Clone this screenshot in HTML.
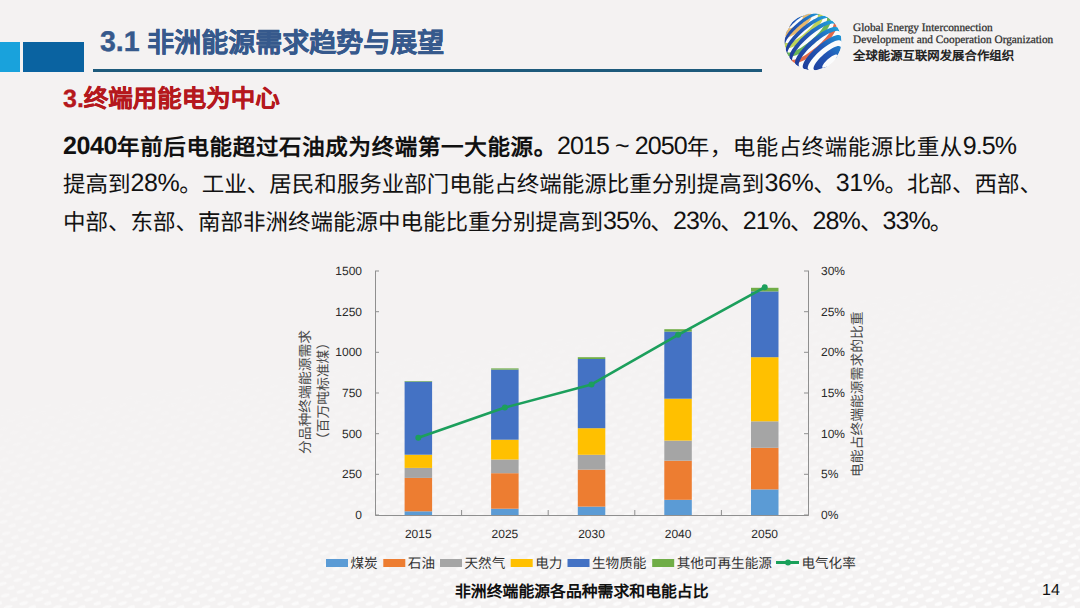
<!DOCTYPE html>
<html lang="zh-CN"><head><meta charset="utf-8">
<style>
html,body{margin:0;padding:0;}
body{text-rendering:geometricPrecision;width:1080px;height:608px;overflow:hidden;background:#f4f2f2;position:relative;font-family:"Liberation Sans",sans-serif;}
.abs{position:absolute;white-space:nowrap;}
#blk1{left:0;top:42px;width:20px;height:30px;background:#19a2dc;}
#blk2{left:23px;top:42px;width:61px;height:30px;background:#0a63a1;}
#uline{left:93px;top:69px;width:669px;height:3px;background:#1d5a7c;}
#title{left:100px;top:21px;font-size:27px;font-weight:bold;color:#36598c;-webkit-text-stroke:0.4px #36598c;}
#title i,#sub i{font-style:normal;}
#title i{font-size:28.5px;vertical-align:1px;}
#sub i{font-size:25px;}
#sub{left:63px;top:80px;font-size:24.5px;font-weight:bold;color:#b5181d;-webkit-text-stroke:0.3px #b5181d;}
.para{left:63px;font-size:22.5px;color:#111;}
.para i{font-style:normal;font-size:25px;vertical-align:1.5px;letter-spacing:-0.9px;}
#l1{top:130px;letter-spacing:0.5px;}
#l1 b{letter-spacing:0.65px;}
#l1 i{letter-spacing:-0.9px;}
#l1 b i{letter-spacing:-0.4px;}
#l2 i{letter-spacing:-0.4px;}
#l2{top:167px;}
#l3{top:205px;}
#cap{left:455px;top:578.5px;font-size:15.85px;font-weight:bold;color:#111;}
#pg{left:1042px;top:581.5px;font-size:16px;color:#111;}
.ax{font-family:"Liberation Sans",sans-serif;font-size:12px;fill:#2a2a2a;}
.tt{font-family:"Liberation Sans",sans-serif;font-size:13.8px;fill:#4a4a4a;}
.lg{font-family:"Liberation Sans",sans-serif;font-size:13.6px;fill:#333;}
.lt{font-family:"Liberation Serif",serif;font-size:11.3px;color:#2e2e2e;left:853px;-webkit-text-stroke:0.25px #2e2e2e;}
#lt1{top:21.5px;}
#lt2{top:34px;}
#lt3{left:853px;top:45.5px;font-size:12.4px;font-weight:bold;color:#222;}
</style></head><body>
<svg class="abs" style="left:0;top:0" width="1080" height="608" viewBox="0 0 1080 608">
<defs>
<pattern id="dots" width="16" height="12" patternUnits="userSpaceOnUse" patternTransform="rotate(-14)">
<ellipse cx="5" cy="3" rx="4.5" ry="1.8" fill="#fff"/><ellipse cx="13" cy="9" rx="4.5" ry="1.8" fill="#fff"/>
</pattern>
<linearGradient id="fadeg" gradientUnits="userSpaceOnUse" x1="560" y1="330" x2="600" y2="640">
<stop offset="0" stop-color="#fff" stop-opacity="0"/><stop offset="1" stop-color="#fff" stop-opacity="1"/>
</linearGradient>
<mask id="fadem"><rect width="1080" height="608" fill="url(#fadeg)"/></mask>
</defs>
<rect width="1080" height="608" fill="url(#dots)" mask="url(#fadem)" opacity="0.85"/>
</svg>
<div class="abs" id="blk1"></div>
<div class="abs" id="blk2"></div>
<div class="abs" id="uline"></div>
<div class="abs" id="title"><i>3.1</i> 非洲能源需求趋势与展望</div>
<div class="abs" id="sub"><i>3.</i>终端用能电为中心</div>
<div class="abs para" id="l1"><b><i>2040</i>年前后电能超过石油成为终端第一大能源。</b><i>2015 ~ 2050</i>年，电能占终端能源比重从<i>9.5%</i></div>
<div class="abs para" id="l2">提高到<i>28%</i>。工业、居民和服务业部门电能占终端能源比重分别提高到<i>36%</i>、<i>31%</i>。北部、西部、</div>
<div class="abs para" id="l3">中部、东部、南部非洲终端能源中电能比重分别提高到<i>35%</i>、<i>23%</i>、<i>21%</i>、<i>28%</i>、<i>33%</i>。</div>
<svg class="abs" style="left:0;top:0" width="1080" height="608" viewBox="0 0 1080 608">
<path d="M375.5 271 V515.5 H808.5 V271" fill="none" stroke="#8f8f8f" stroke-width="1"/>
<path d="M375 515.0h4M809 515.0h-5M375 474.3h4M809 474.3h-5M375 433.7h4M809 433.7h-5M375 393.0h4M809 393.0h-5M375 352.3h4M809 352.3h-5M375 311.7h4M809 311.7h-5M375 271.0h4M809 271.0h-5M461.6 515v-5M548.2 515v-5M634.8 515v-5M721.4 515v-5" stroke="#8f8f8f" stroke-width="1" fill="none"/>
<rect x="404.6" y="511.3" width="27.5" height="3.7" fill="#5b9bd5"/>
<rect x="404.6" y="477.9" width="27.5" height="33.4" fill="#ed7d31"/>
<rect x="404.6" y="467.9" width="27.5" height="10.0" fill="#a5a5a5"/>
<rect x="404.6" y="454.7" width="27.5" height="13.2" fill="#ffc000"/>
<rect x="404.6" y="381.6" width="27.5" height="73.1" fill="#4472c4"/>
<rect x="404.6" y="381.0" width="27.5" height="0.6" fill="#70ad47"/>
<rect x="491.1" y="508.7" width="27.5" height="6.3" fill="#5b9bd5"/>
<rect x="491.1" y="473.2" width="27.5" height="35.5" fill="#ed7d31"/>
<rect x="491.1" y="459.5" width="27.5" height="13.7" fill="#a5a5a5"/>
<rect x="491.1" y="439.7" width="27.5" height="19.8" fill="#ffc000"/>
<rect x="491.1" y="369.6" width="27.5" height="70.1" fill="#4472c4"/>
<rect x="491.1" y="368.4" width="27.5" height="1.2" fill="#70ad47"/>
<rect x="577.8" y="506.6" width="27.5" height="8.4" fill="#5b9bd5"/>
<rect x="577.8" y="469.6" width="27.5" height="37.0" fill="#ed7d31"/>
<rect x="577.8" y="454.8" width="27.5" height="14.8" fill="#a5a5a5"/>
<rect x="577.8" y="428.2" width="27.5" height="26.6" fill="#ffc000"/>
<rect x="577.8" y="359.0" width="27.5" height="69.2" fill="#4472c4"/>
<rect x="577.8" y="357.2" width="27.5" height="1.8" fill="#70ad47"/>
<rect x="664.3" y="499.8" width="27.5" height="15.2" fill="#5b9bd5"/>
<rect x="664.3" y="460.7" width="27.5" height="39.1" fill="#ed7d31"/>
<rect x="664.3" y="440.6" width="27.5" height="20.1" fill="#a5a5a5"/>
<rect x="664.3" y="398.7" width="27.5" height="41.9" fill="#ffc000"/>
<rect x="664.3" y="331.6" width="27.5" height="67.1" fill="#4472c4"/>
<rect x="664.3" y="329.2" width="27.5" height="2.4" fill="#70ad47"/>
<rect x="751.0" y="489.4" width="27.5" height="25.6" fill="#5b9bd5"/>
<rect x="751.0" y="447.8" width="27.5" height="41.6" fill="#ed7d31"/>
<rect x="751.0" y="421.3" width="27.5" height="26.5" fill="#a5a5a5"/>
<rect x="751.0" y="357.2" width="27.5" height="64.1" fill="#ffc000"/>
<rect x="751.0" y="291.4" width="27.5" height="65.8" fill="#4472c4"/>
<rect x="751.0" y="287.8" width="27.5" height="3.6" fill="#70ad47"/>
<polyline points="418.3,437.8 504.9,407.6 591.5,384.4 678.1,334.8 764.7,287.3" fill="none" stroke="#1c9f5c" stroke-width="2.6" stroke-linejoin="round"/>
<circle cx="418.3" cy="437.8" r="3" fill="#1c9f5c"/>
<circle cx="504.9" cy="407.6" r="3" fill="#1c9f5c"/>
<circle cx="591.5" cy="384.4" r="3" fill="#1c9f5c"/>
<circle cx="678.1" cy="334.8" r="3" fill="#1c9f5c"/>
<circle cx="764.7" cy="287.3" r="3" fill="#1c9f5c"/>
<text x="362" y="519.0" text-anchor="end" class="ax">0</text>
<text x="821" y="519.0" class="ax">0%</text>
<text x="362" y="478.3" text-anchor="end" class="ax">250</text>
<text x="821" y="478.3" class="ax">5%</text>
<text x="362" y="437.7" text-anchor="end" class="ax">500</text>
<text x="821" y="437.7" class="ax">10%</text>
<text x="362" y="397.0" text-anchor="end" class="ax">750</text>
<text x="821" y="397.0" class="ax">15%</text>
<text x="362" y="356.3" text-anchor="end" class="ax">1000</text>
<text x="821" y="356.3" class="ax">20%</text>
<text x="362" y="315.7" text-anchor="end" class="ax">1250</text>
<text x="821" y="315.7" class="ax">25%</text>
<text x="362" y="275.0" text-anchor="end" class="ax">1500</text>
<text x="821" y="275.0" class="ax">30%</text>
<text x="418.3" y="537.5" text-anchor="middle" class="ax">2015</text>
<text x="504.9" y="537.5" text-anchor="middle" class="ax">2025</text>
<text x="591.5" y="537.5" text-anchor="middle" class="ax">2030</text>
<text x="678.1" y="537.5" text-anchor="middle" class="ax">2040</text>
<text x="764.7" y="537.5" text-anchor="middle" class="ax">2050</text>
<text transform="translate(310,392) rotate(-90)" text-anchor="middle" class="tt">分品种终端能源需求</text>
<text transform="translate(328,391) rotate(-90)" text-anchor="middle" class="tt">（百万吨标准煤）</text>
<text transform="translate(862.3,394.2) rotate(-90)" text-anchor="middle" class="tt">电能占终端能源需求的比重</text>
<rect x="326" y="559" width="22" height="8" fill="#5b9bd5"/>
<text x="350.5" y="567.5" class="lg">煤炭</text>
<rect x="383.3" y="559" width="22" height="8" fill="#ed7d31"/>
<text x="407.8" y="567.5" class="lg">石油</text>
<rect x="440" y="559" width="22" height="8" fill="#a5a5a5"/>
<text x="464.5" y="567.5" class="lg">天然气</text>
<rect x="510.7" y="559" width="22" height="8" fill="#ffc000"/>
<text x="535.2" y="567.5" class="lg">电力</text>
<rect x="567.5" y="559" width="22" height="8" fill="#4472c4"/>
<text x="592.0" y="567.5" class="lg">生物质能</text>
<rect x="652.2" y="559" width="22" height="8" fill="#70ad47"/>
<text x="676.7" y="567.5" class="lg">其他可再生能源</text>
<path d="M776 562.5H799" stroke="#1aa05a" stroke-width="3"/><circle cx="788" cy="562.5" r="3" fill="#1aa05a"/>
<text x="801.4" y="567.5" class="lg">电气化率</text>
</svg>
<svg class="abs" style="left:0;top:0" width="1080" height="90" viewBox="0 0 1080 90">
<defs><clipPath id="lc"><circle cx="813.0" cy="41.8" r="28.6"/></clipPath>
<linearGradient id="lg1" gradientUnits="userSpaceOnUse" x1="795" y1="64" x2="838" y2="20"><stop offset="0" stop-color="#1e3a98"/><stop offset="0.5" stop-color="#2358b6"/><stop offset="1" stop-color="#1eaee2"/></linearGradient></defs>
<g clip-path="url(#lc)"><circle cx="813.0" cy="41.8" r="28.6" fill="#fbfcfd"/>
<path d="M797.2,18.0 798.3,17.3 799.4,16.7 800.4,16.3 801.3,16.0 802.0,16.0 802.5,16.1 802.8,16.4 802.9,16.9 802.8,17.6 802.5,18.4 802.0,19.3 801.3,20.3 800.4,21.3 799.5,22.4 798.4,23.5 797.2,24.5 796.0,25.5 794.8,26.3 793.6,27.0 792.5,27.6 791.5,28.0 790.6,28.3 789.9,28.3 789.4,28.2 789.1,27.8 789.0,27.3 789.1,26.7 789.4,25.9 789.9,25.0 790.6,24.0 791.5,23.0 791.7,22.7 L785.4,34.3 785.3,35.2 785.4,36.0 785.8,36.6 786.5,37.0 787.3,37.1 788.4,37.0 789.7,36.7 791.2,36.1 792.8,35.3 794.5,34.4 796.4,33.2 798.2,32.0 800.1,30.5 801.9,29.0 803.7,27.4 805.4,25.8 806.9,24.1 808.3,22.5 809.5,20.9 810.5,19.4 811.2,18.0 811.7,16.8 812.0,15.7 812.0,14.8 811.7,14.1 811.2,13.7 810.5,13.4 809.5,13.4 809.5,13.4Z" fill="#e6b86e" fill-rule="evenodd"/>
<path d="M815.9,13.4 816.7,13.6 817.3,13.9 817.6,14.4 817.9,15.1 817.9,15.9 817.7,16.9 817.4,17.9 816.9,19.1 816.2,20.4 815.4,21.8 814.4,23.2 813.2,24.7 811.9,26.2 810.5,27.7 809.0,29.3 807.5,30.8 805.8,32.3 804.1,33.8 802.4,35.2 800.6,36.5 798.9,37.8 797.1,38.9 795.5,39.9 793.8,40.8 792.3,41.5 790.9,42.1 789.6,42.6 788.4,42.9 787.3,43.0 786.4,42.9 785.7,42.7 785.1,42.4 784.7,41.9 784.5,41.2 784.4,40.7 L784.7,46.2 785.0,46.9 785.4,47.5 786.1,48.0 786.9,48.2 788.0,48.2 789.2,48.1 790.6,47.8 792.1,47.3 793.7,46.6 795.5,45.7 797.3,44.7 799.2,43.6 801.2,42.3 803.2,40.9 805.2,39.3 807.2,37.7 809.2,36.1 811.1,34.3 812.9,32.6 814.6,30.8 816.2,29.0 817.7,27.3 819.0,25.6 820.1,23.9 821.1,22.4 821.9,20.9 822.5,19.5 822.8,18.3 823.0,17.2 823.0,16.3 822.7,15.6 822.3,15.0 821.6,14.5 821.4,14.4Z" fill="#bdd25a" fill-rule="evenodd"/>
<path d="M825.8,16.2 826.4,16.7 826.9,17.4 827.1,18.3 827.0,19.4 826.8,20.6 826.3,22.0 825.6,23.5 824.7,25.1 823.5,26.8 822.2,28.6 820.8,30.5 819.1,32.4 817.4,34.3 815.5,36.2 813.5,38.1 811.4,40.0 809.3,41.7 807.1,43.4 804.9,45.0 802.8,46.5 800.7,47.9 798.6,49.1 796.7,50.1 794.8,51.0 793.1,51.6 791.5,52.1 790.1,52.4 788.8,52.5 787.8,52.4 786.9,52.1 786.3,51.5 785.9,50.8 785.9,50.8 L787.8,55.3 788.4,55.9 789.2,56.3 790.2,56.5 791.5,56.5 792.9,56.2 794.5,55.8 796.3,55.2 798.2,54.3 800.2,53.3 802.4,52.1 804.6,50.7 806.8,49.2 809.1,47.6 811.4,45.8 813.6,44.0 815.8,42.1 817.9,40.1 819.9,38.1 821.9,36.1 823.6,34.1 825.2,32.1 826.7,30.2 827.9,28.3 828.9,26.6 829.7,25.0 830.3,23.5 830.7,22.2 830.8,21.0 830.7,20.0 830.3,19.2 829.9,18.8Z" fill="#6ab558" fill-rule="evenodd"/>
<path d="M833.1,21.5 833.6,22.2 833.8,23.2 833.7,24.3 833.4,25.6 832.9,27.1 832.2,28.7 831.2,30.4 830.0,32.3 828.6,34.2 827.0,36.2 825.3,38.2 823.4,40.3 821.3,42.4 819.2,44.4 817.0,46.4 814.7,48.3 812.4,50.1 810.0,51.8 807.7,53.4 805.5,54.9 803.3,56.2 801.2,57.3 799.2,58.2 797.3,58.9 795.6,59.4 794.1,59.7 792.7,59.8 791.6,59.7 790.7,59.4 790.0,58.8 790.0,58.8 L792.9,62.1 793.7,62.6 794.6,62.9 795.8,62.9 797.2,62.8 798.8,62.4 800.6,61.8 802.5,61.0 804.5,60.0 806.7,58.9 808.9,57.5 811.2,56.0 813.5,54.4 815.8,52.6 818.1,50.8 820.4,48.8 822.6,46.8 824.7,44.8 826.7,42.7 828.6,40.7 830.3,38.6 831.8,36.7 833.1,34.8 834.2,32.9 835.2,31.2 835.8,29.7 836.3,28.3 836.5,27.0 836.4,25.9 836.1,25.0 836.0,24.8Z" fill="#e2694a" fill-rule="evenodd"/>
<path d="M791.9,22.5 792.1,22.3 792.3,22.1 792.5,21.9 792.7,21.7 792.9,21.5 793.1,21.2 793.4,21.0 793.6,20.8 793.8,20.6 794.0,20.4 794.3,20.2 794.5,20.0 794.7,19.8 795.0,19.6 795.2,19.4 795.5,19.2 795.7,19.0 796.0,18.8 796.2,18.7 796.4,18.5 796.7,18.3 796.9,18.1 796.9,18.1 L809.2,13.5 808.6,13.6 807.9,13.7 807.2,14.0 806.5,14.2 805.7,14.6 804.9,14.9 804.1,15.4 803.2,15.9 802.3,16.4 801.4,17.0 800.5,17.6 799.6,18.2 798.6,18.9 797.7,19.6 796.8,20.3 795.9,21.1 795.0,21.9 794.1,22.7 793.2,23.5 792.4,24.3 791.6,25.2 790.8,26.0 790.0,26.8 789.4,27.6 788.7,28.4 788.1,29.2 787.6,30.0 787.1,30.7 786.6,31.4 786.3,32.1 785.9,32.8 785.7,33.4 785.5,34.0 785.5,34.0Z" fill="url(#lg1)" fill-rule="evenodd"/>
<path d="M784.4,40.4 784.5,39.8 784.7,39.1 784.9,38.4 785.2,37.6 785.6,36.8 786.1,35.9 786.7,35.0 787.3,34.1 788.0,33.1 788.7,32.1 789.5,31.1 790.4,30.1 791.3,29.1 792.3,28.0 793.3,27.0 794.3,26.0 795.4,24.9 796.5,23.9 797.7,23.0 798.8,22.0 800.0,21.1 801.1,20.2 802.3,19.3 803.5,18.5 804.6,17.8 805.8,17.0 806.9,16.4 808.0,15.8 809.0,15.2 810.0,14.8 811.0,14.3 811.9,14.0 812.8,13.7 813.6,13.5 814.3,13.4 815.0,13.3 815.7,13.3 815.7,13.3 L821.1,14.4 820.4,14.3 819.7,14.3 818.9,14.3 818.1,14.5 817.2,14.7 816.2,15.1 815.1,15.4 814.0,15.9 812.8,16.5 811.6,17.1 810.4,17.8 809.1,18.5 807.8,19.4 806.5,20.2 805.2,21.2 803.8,22.1 802.5,23.2 801.2,24.2 799.8,25.3 798.5,26.4 797.3,27.6 796.0,28.7 794.8,29.9 793.7,31.1 792.6,32.3 791.5,33.5 790.5,34.6 789.6,35.8 788.7,36.9 788.0,38.0 787.2,39.1 786.6,40.1 786.1,41.1 785.6,42.1 785.3,42.9 785.0,43.8 784.8,44.5 784.7,45.3 784.7,45.9 784.7,45.9Z" fill="url(#lg1)" fill-rule="evenodd"/>
<path d="M785.8,50.6 785.7,50.0 785.7,49.3 785.8,48.5 786.0,47.7 786.3,46.8 786.7,45.8 787.2,44.8 787.7,43.7 788.4,42.6 789.2,41.5 790.0,40.3 791.0,39.1 792.0,37.8 793.0,36.6 794.2,35.3 795.4,34.0 796.6,32.7 797.9,31.4 799.3,30.2 800.6,28.9 802.0,27.7 803.5,26.5 804.9,25.4 806.3,24.3 807.8,23.2 809.2,22.2 810.6,21.3 812.0,20.4 813.4,19.6 814.8,18.9 816.1,18.2 817.3,17.6 818.5,17.1 819.7,16.7 820.7,16.3 821.7,16.1 822.7,15.9 823.5,15.8 824.3,15.8 825.0,15.9 825.5,16.1 825.5,16.1 L829.7,18.6 828.9,18.2 827.9,18.0 826.6,18.0 825.2,18.3 823.6,18.7 821.8,19.3 819.9,20.2 817.9,21.2 815.7,22.4 813.5,23.8 811.3,25.3 809.0,26.9 806.8,28.7 804.5,30.5 802.3,32.4 800.2,34.4 798.2,36.4 796.3,38.4 794.5,40.4 792.9,42.4 791.5,44.3 790.2,46.2 789.2,47.9 788.4,49.5 787.8,51.0 787.4,52.3 787.3,53.5 787.4,54.5 787.7,55.1Z" fill="url(#lg1)" fill-rule="evenodd"/>
<path d="M789.8,58.6 789.5,57.8 789.4,56.8 789.5,55.6 789.8,54.2 790.4,52.7 791.3,51.0 792.3,49.2 793.6,47.4 795.0,45.4 796.7,43.4 798.5,41.4 800.4,39.3 802.5,37.2 804.7,35.2 806.9,33.3 809.2,31.4 811.5,29.6 813.9,27.9 816.2,26.4 818.4,25.0 820.6,23.7 822.6,22.7 824.6,21.8 826.4,21.2 828.1,20.7 829.5,20.5 830.8,20.5 831.8,20.7 832.7,21.1 832.9,21.3 L835.8,24.6 835.1,24.0 834.2,23.7 833.1,23.5 831.8,23.6 830.2,23.9 828.5,24.5 826.7,25.2 824.7,26.1 822.6,27.2 820.4,28.5 818.1,29.9 815.8,31.5 813.4,33.3 811.1,35.1 808.8,37.0 806.6,39.0 804.5,41.0 802.5,43.1 800.5,45.1 798.8,47.2 797.2,49.2 795.8,51.1 794.6,53.0 793.6,54.7 792.9,56.3 792.4,57.8 792.1,59.1 792.0,60.2 792.2,61.2 792.7,61.9 792.7,61.9Z" fill="url(#lg1)" fill-rule="evenodd"/>
<path d="M795.8,64.7 795.3,64.0 795.0,63.1 795.0,62.1 795.2,60.8 795.6,59.4 796.3,57.9 797.2,56.2 798.3,54.5 799.6,52.6 801.1,50.7 802.7,48.7 804.6,46.7 806.5,44.6 808.6,42.6 810.7,40.7 813.0,38.8 815.2,36.9 817.5,35.2 819.8,33.6 822.0,32.1 824.2,30.8 826.3,29.7 828.3,28.7 830.2,27.9 831.9,27.4 833.4,27.0 834.8,26.8 836.0,26.9 837.0,27.2 837.7,27.6 838.1,28.1 L840.0,32.5 839.6,31.8 839.0,31.3 838.1,30.9 837.1,30.8 835.8,30.9 834.4,31.2 832.8,31.7 831.1,32.4 829.2,33.2 827.2,34.3 825.2,35.5 823.0,36.8 820.9,38.3 818.7,39.9 816.5,41.6 814.4,43.4 812.3,45.3 810.3,47.2 808.4,49.1 806.6,51.0 805.0,52.9 803.5,54.8 802.2,56.6 801.1,58.3 800.2,60.0 799.5,61.5 799.0,62.8 798.7,64.1 798.7,65.1 798.9,66.0 799.3,66.7 799.9,67.2 799.9,67.2Z" fill="url(#lg1)" fill-rule="evenodd"/>
<path d="M804.3,69.1 803.6,68.7 803.1,68.2 802.8,67.5 802.7,66.6 802.8,65.5 803.1,64.3 803.6,63.0 804.3,61.6 805.2,60.1 806.3,58.4 807.6,56.7 809.0,55.0 810.6,53.2 812.3,51.4 814.1,49.6 816.0,47.9 817.9,46.2 819.9,44.5 821.9,43.0 824.0,41.5 826.0,40.2 827.9,39.0 829.8,37.9 831.6,37.0 833.3,36.2 834.9,35.7 836.3,35.3 837.6,35.1 838.7,35.1 839.6,35.2 840.3,35.6 840.8,36.1 841.2,36.8 841.2,37.1 L841.6,42.6 841.5,41.8 841.2,41.2 840.8,40.7 840.1,40.4 839.3,40.3 838.3,40.3 837.2,40.4 836.0,40.8 834.6,41.3 833.1,41.9 831.5,42.7 829.9,43.7 828.2,44.7 826.4,45.9 824.6,47.2 822.9,48.6 821.1,50.0 819.4,51.5 817.7,53.0 816.2,54.6 814.7,56.2 813.3,57.7 812.1,59.3 810.9,60.8 810.0,62.2 809.2,63.5 808.5,64.8 808.1,66.0 807.8,67.0 807.7,67.9 807.8,68.7 808.1,69.3 808.6,69.8 809.2,70.1 809.7,70.2Z" fill="url(#lg1)" fill-rule="evenodd"/>
<path d="M816.1,70.2 815.1,70.2 814.3,70.0 813.8,69.5 813.5,68.8 813.5,67.9 813.8,66.8 814.3,65.5 815.1,64.1 816.1,62.6 817.3,61.0 818.7,59.3 820.3,57.6 822.0,55.9 823.8,54.3 825.7,52.7 827.6,51.3 829.5,50.0 831.4,48.8 833.1,47.8 834.8,47.0 836.3,46.5 837.6,46.1 838.7,46.0 839.6,46.2 840.3,46.5 840.7,47.1 840.8,47.9 840.7,48.9 840.7,48.9 L835.5,59.4 836.3,58.3 836.9,57.3 837.3,56.4 837.5,55.7 837.4,55.1 837.1,54.7 836.6,54.5 835.8,54.5 834.9,54.8 833.9,55.2 832.7,55.8 831.4,56.5 830.1,57.4 828.8,58.5 827.5,59.6 826.3,60.7 825.2,61.9 824.2,63.1 823.4,64.2 822.8,65.2 822.4,66.1 822.3,66.8 822.3,67.4 822.6,67.8 823.1,68.0 823.9,68.0 824.8,67.7 825.8,67.3 827.0,66.7 827.3,66.6Z" fill="url(#lg1)" fill-rule="evenodd"/>
</g></svg>
<div class="abs lt" id="lt1">Global Energy Interconnection</div>
<div class="abs lt" id="lt2">Development and Cooperation Organization</div>
<div class="abs" id="lt3">全球能源互联网发展合作组织</div>
<div class="abs" id="cap">非洲终端能源各品种需求和电能占比</div>
<div class="abs" id="pg">14</div>
</body></html>
